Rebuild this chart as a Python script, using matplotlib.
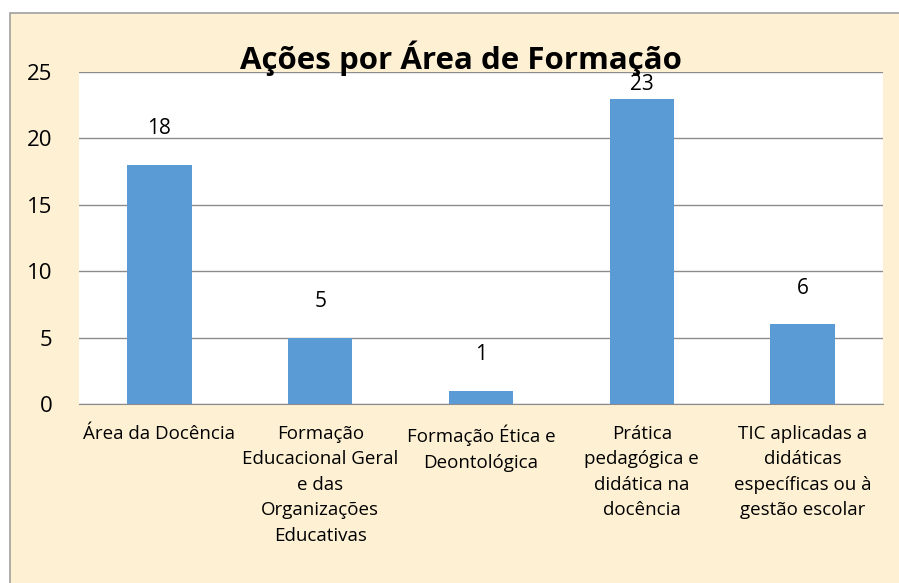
import matplotlib.pyplot as plt
from matplotlib.patches import Rectangle

categorias = ['Área da Docência',
              'Formação\nEducacional Geral\ne das\nOrganizações\nEducativas',
              'Formação Ética e\nDeontológica',
              'Prática\npedagógica e\ndidática na\ndocência',
              'TIC aplicadas a\ndidáticas\nespecíficas ou à\ngestão escolar']
acoes = [18, 5, 1, 23, 6]
y_ticks = [0, 5, 10, 15, 20, 25]

plt.rcParams['font.family'] = ['Open Sans', 'DejaVu Sans']

fig = plt.figure(figsize=(8.99, 5.83), dpi=100)
fig.patch.set_facecolor('white')

# fundo creme do gráfico
fig.patches.append(Rectangle((10 / 899, -0.01), 1.0, 1 - 13 / 583 + 0.01,
                             transform=fig.transFigure, facecolor='#FEF1D3',
                             edgecolor='#A0A0A0', linewidth=1.2, zorder=-5))

ax = fig.add_axes([79 / 899, 1 - 404 / 583, 804 / 899, 332 / 583])
ax.set_facecolor('white')

x = range(len(categorias))
ax.bar(x, acoes, width=0.4, color='#5B9BD5', zorder=3)

# rótulos de dados (limitados ao topo da área do gráfico, como no Excel)
for i, v in enumerate(acoes):
    ax.text(i, min(v + 2.3, 23.65), str(v), ha='center', va='baseline',
            fontsize=15)

ax.set_ylim(0, 25)
ax.set_xlim(-0.5, len(categorias) - 0.5)
ax.set_yticks(y_ticks)
ax.yaxis.grid(True, color='#8C8C8C', linewidth=1)
ax.set_axisbelow(True)
ax.tick_params(axis='y', length=0, labelsize=16, pad=19)
ax.tick_params(axis='x', length=0, labelsize=13.5, pad=15)
ax.set_xticks(list(x))
ax.set_xticklabels(categorias, linespacing=1.53)

for s in ['left', 'right', 'top']:
    ax.spines[s].set_visible(False)
ax.spines['bottom'].set_color('#8C8C8C')

fig.text(461 / 899, 1 - 58 / 583, 'Ações por Área de Formação', ha='center',
         va='center', fontsize=22.5, fontweight='bold')

fig.savefig('out.png', dpi=100)
